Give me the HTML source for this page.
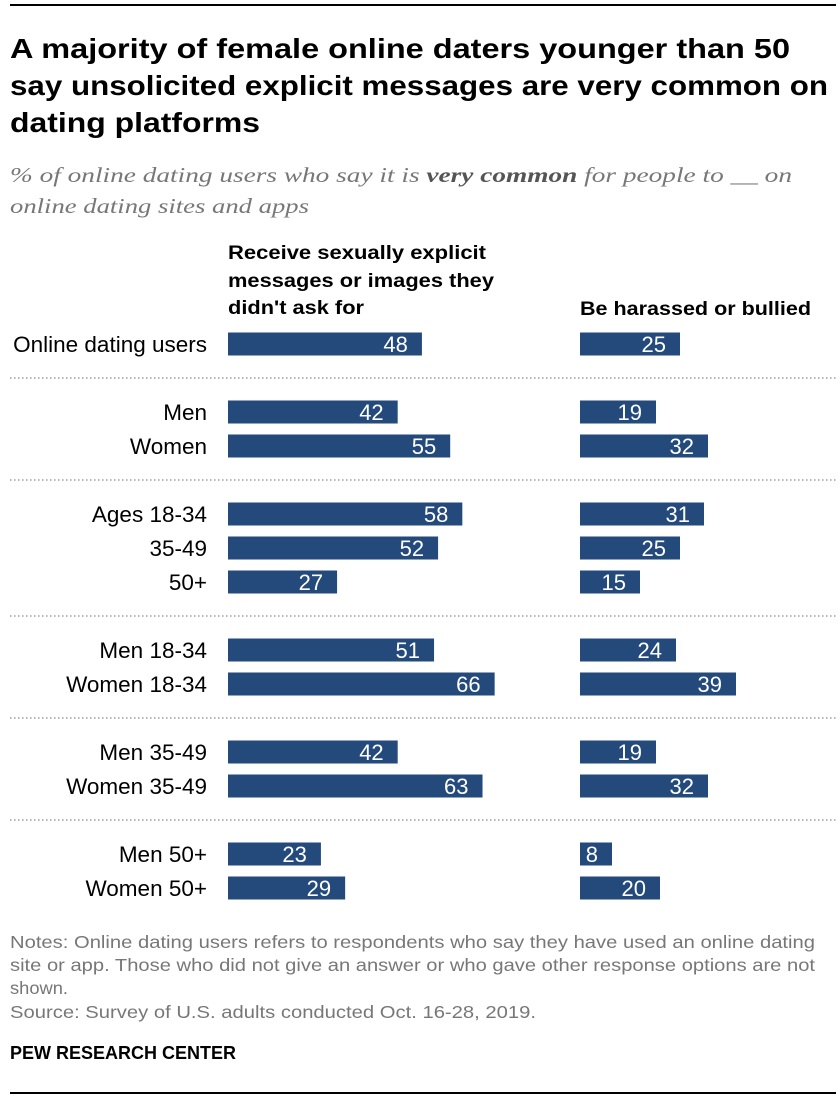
<!DOCTYPE html>
<html><head><meta charset="utf-8"><style>
body{margin:0;background:#fff}
svg{display:block}
text{font-family:"Liberation Sans Narrow","Liberation Sans",sans-serif}
</style></head><body>
<svg id="chart" width="840" height="1100" xmlns="http://www.w3.org/2000/svg">
<line x1="10" y1="5" x2="836" y2="5" stroke="#000" stroke-width="2"/>
<g font-weight="bold" font-size="28" fill="#000">
<text x="10" y="58" textLength="780" lengthAdjust="spacingAndGlyphs">A majority of female online daters younger than 50</text>
<text x="10" y="95" textLength="818" lengthAdjust="spacingAndGlyphs">say unsolicited explicit messages are very common on</text>
<text x="10" y="132" textLength="250" lengthAdjust="spacingAndGlyphs">dating platforms</text>
</g>
<g font-style="italic" font-size="21" fill="#777">
<text x="10" y="182" textLength="782" lengthAdjust="spacingAndGlyphs" style="font-family:'Liberation Serif',serif">% of online dating users who say it is <tspan font-weight="bold" fill="#555">very common</tspan> for people to __ on</text>
<text x="10" y="213" textLength="299" lengthAdjust="spacingAndGlyphs" style="font-family:'Liberation Serif',serif">online dating sites and apps</text>
</g>
<g font-weight="bold" font-size="19" fill="#000">
<text x="228" y="259" textLength="258" lengthAdjust="spacingAndGlyphs">Receive sexually explicit</text>
<text x="228" y="287" textLength="266" lengthAdjust="spacingAndGlyphs">messages or images they</text>
<text x="228" y="314" textLength="136" lengthAdjust="spacingAndGlyphs">didn't ask for</text>
<text x="580" y="315" textLength="231" lengthAdjust="spacingAndGlyphs">Be harassed or bullied</text>
</g>
<g id="rows"></g>
<g fill="#777" font-size="17.5">
<text x="10" y="948" textLength="805" lengthAdjust="spacingAndGlyphs">Notes: Online dating users refers to respondents who say they have used an online dating</text>
<text x="10" y="971" textLength="805" lengthAdjust="spacingAndGlyphs">site or app. Those who did not give an answer or who gave other response options are not</text>
<text x="10" y="994" textLength="58" lengthAdjust="spacingAndGlyphs">shown.</text>
<text x="10" y="1018" textLength="526" lengthAdjust="spacingAndGlyphs">Source: Survey of U.S. adults conducted Oct. 16-28, 2019.</text>
</g>
<text x="10" y="1059" font-weight="bold" font-size="18" textLength="226" lengthAdjust="spacingAndGlyphs">PEW RESEARCH CENTER</text>
<line x1="10" y1="1093" x2="836" y2="1093" stroke="#000" stroke-width="2"/>
</svg>
<script>
const categories = ["Online dating users","Men","Women","Ages 18-34","35-49","50+","Men 18-34","Women 18-34","Men 35-49","Women 35-49","Men 50+","Women 50+"];
const explicitValues = [48,42,55,58,52,27,51,66,42,63,23,29];
const harassedValues = [25,19,32,31,25,15,24,39,19,32,8,20];
const groupIndex = [0,1,1,2,2,2,3,3,4,4,5,5];

const NS = "http://www.w3.org/2000/svg";
const g = document.getElementById("rows");
const x1 = v => v * 4.04;
const x2 = v => v * 4.0;
const col1 = 228, col2 = 580, barH = 23;
function rowY(i) {
  return 344 + i * 34 + groupIndex[i] * 34;
}
function mk(tag, attrs) {
  const e = document.createElementNS(NS, tag);
  for (const k in attrs) e.setAttribute(k, attrs[k]);
  return e;
}
categories.forEach((c, i) => {
  const cy = rowY(i);
  const lbl = mk("text", {x: 207, y: cy + 8, "text-anchor": "end", "font-size": 22.5, fill: "#000"});
  lbl.textContent = c;
  
  
  g.appendChild(lbl);
  [[explicitValues[i], col1, x1, 'bar-explicit'], [harassedValues[i], col2, x2, 'bar-harassed']].forEach(([v, x0, sc, nm]) => {
    const w = sc(v);
    const r = mk("rect", {x: x0, y: cy - barH / 2, width: w, height: barH, fill: "#234a7b"});
    
    
    g.appendChild(r);
    const t = mk("text", {x: x0 + w - 14, y: cy + 8, "text-anchor": "end", "font-size": 22, fill: "#fff"});
    t.textContent = v;
    
    
    g.appendChild(t);
  });
  if (i < categories.length - 1 && groupIndex[i + 1] !== groupIndex[i]) {
    const ly = cy + 34;
    const l = mk("line", {x1: 10, x2: 836, y1: ly, y2: ly, stroke: "#888", "stroke-dasharray": "1.5,2.5", "stroke-width": 1.2});
    
    
    g.appendChild(l);
  }
});
</script>
</body></html>
